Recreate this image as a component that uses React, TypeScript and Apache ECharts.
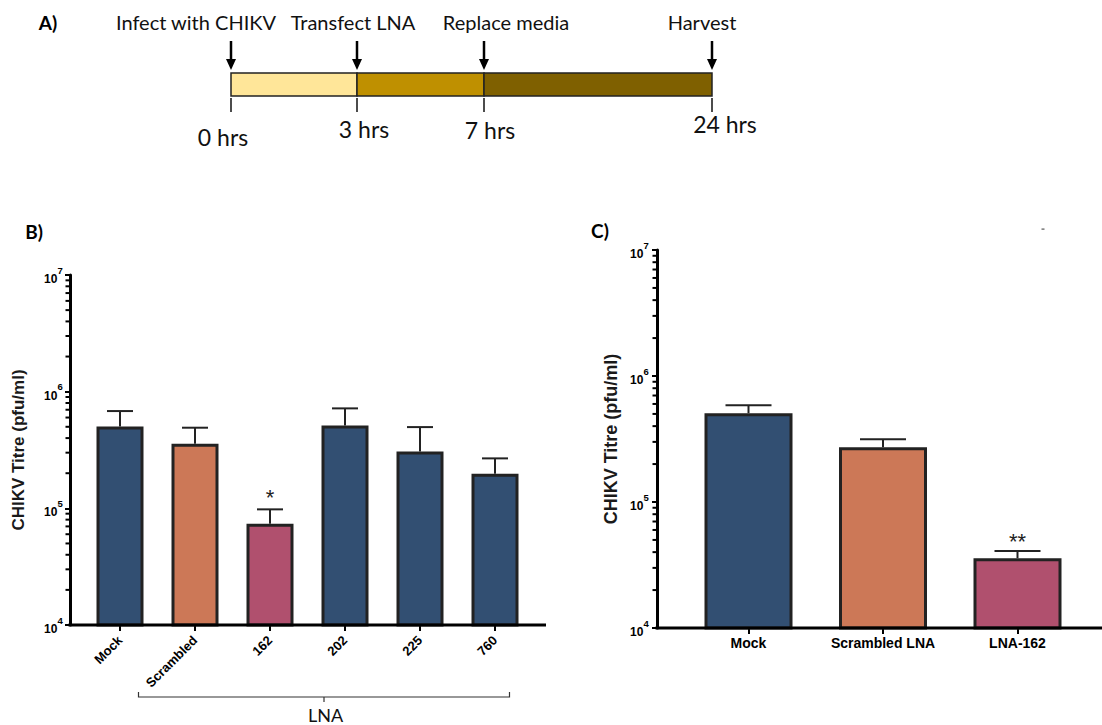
import React, { useEffect, useRef } from "react";
import * as echarts from "echarts";

// ---------- Data ----------
const timelineEvents = ["Infect with CHIKV", "Transfect LNA", "Replace media", "Harvest"];
const timelineTimes = ["0 hrs", "3 hrs", "7 hrs", "24 hrs"];

const panelBCategories = ["Mock", "Scrambled", "162", "202", "225", "760"];
const panelBMeans = [5.02e5, 3.57e5, 7.36e4, 5.12e5, 3.07e5, 1.98e5];
const panelBErrTops = [6.82e5, 4.91e5, 9.8e4, 7.19e5, 4.97e5, 2.68e5];
const panelBSig = ["", "", "*", "", "", ""];
const panelBGroupLabel = "LNA";

const panelCCategories = ["Mock", "Scrambled LNA", "LNA-162"];
const panelCMeans = [5.07e5, 2.72e5, 3.58e4];
const panelCErrTops = [5.85e5, 3.15e5, 4.08e4];
const panelCSig = ["", "", "**"];

const yAxisTitle = "CHIKV Titre (pfu/ml)";
const decades = [1e4, 1e5, 1e6];
const minorMultipliers = [2, 3, 4, 5, 6, 7, 8, 9];

// ---------- Styles ----------
const BLUE = "#324f72";
const ORANGE = "#cc7857";
const PINK = "#b0506e";
const panelBColors = [BLUE, ORANGE, PINK, BLUE, BLUE, BLUE];
const panelCColors = [BLUE, ORANGE, PINK];
const timelineColors = ["#ffe699", "#bf9000", "#7f6000"];
const SANS = "'Liberation Sans', Arial, Helvetica, sans-serif";
const CAL = "Lato, 'Open Sans', sans-serif";

// layout (pixels)
const markX = [231, 357, 484, 712];
const eventLabelX = [196, 353, 506, 702];
const timeLabelPos = [
  [223, 137],
  [364, 129],
  [490, 130],
  [725, 124],
];

const B = { left: 82.5, top: 275, width: 450, height: 350, axisX: 70, axisEnd: 546 };
const C = { left: 681.25, top: 250, width: 403.5, height: 378, axisX: 657, axisEnd: 1102 };

const minorTickValues: number[] = [];
decades.forEach((d) => minorMultipliers.forEach((m) => minorTickValues.push(d * m)));

function makeYAxis(gridIndex: number, offset: number, nameSize: number, nameGap: number, margin: number) {
  return {
    type: "log",
    logBase: 10,
    gridIndex,
    min: 1e4,
    max: 1e7,
    splitNumber: 3,
    offset,
    position: "left",
    name: yAxisTitle,
    nameLocation: "middle",
    nameRotate: 90,
    nameGap,
    nameTextStyle: { fontFamily: SANS, fontWeight: "bold", fontSize: nameSize, color: "#1a1a1a" },
    axisLine: { show: true, lineStyle: { color: "#000", width: 3 } },
    axisTick: { show: true, length: 5, lineStyle: { color: "#000", width: 2 } },
    splitLine: { show: false },
    axisLabel: {
      show: true,
      margin,
      showMinLabel: true,
      showMaxLabel: true,
      fontFamily: SANS,
      fontWeight: "bold",
      fontSize: 12,
      color: "#000",
      formatter: (v: number) => `{base|10}{sup|${Math.round(Math.log10(v))}}{sp| }`,
      rich: {
        base: { fontFamily: SANS, fontWeight: "bold", fontSize: 12, color: "#000", lineHeight: 13.4, verticalAlign: "bottom" },
        sup: { fontFamily: SANS, fontWeight: "bold", fontSize: 9.5, color: "#000", lineHeight: 16.4, verticalAlign: "top" },
        sp: { fontSize: 1, lineHeight: 20, verticalAlign: "middle" },
      },
    },
  };
}

function makeXAxis(gridIndex: number, data: string[], rotate: number, fontSize: number, margin: number) {
  return {
    type: "category",
    gridIndex,
    data,
    axisLine: { show: false },
    axisTick: { show: true, alignWithLabel: true, interval: 0, length: 6, lineStyle: { color: "#000", width: 2 } },
    axisLabel: {
      interval: 0,
      rotate,
      margin,
      fontFamily: SANS,
      fontWeight: "bold",
      fontSize,
      color: "#000",
    },
    splitLine: { show: false },
  };
}

function barSeries(idx: number, means: number[], colors: string[], barWidth: number) {
  return {
    type: "bar",
    xAxisIndex: idx,
    yAxisIndex: idx,
    barWidth,
    data: means.map((v, i) => ({ value: v, itemStyle: { color: colors[i] } })),
    itemStyle: { borderColor: "#222", borderWidth: 3 },
    z: 2,
  };
}

function errorSeries(idx: number, means: number[], errs: number[], sig: string[], cap: number, sigFont: number, sigGap: number) {
  return {
    type: "custom",
    xAxisIndex: idx,
    yAxisIndex: idx,
    silent: true,
    z: 3,
    data: means.map((m, i) => [i, errs[i], m]),
    renderItem: (params: any, api: any) => {
      const i = api.value(0);
      const top = api.coord([i, api.value(1)]);
      const base = api.coord([i, api.value(2)]);
      const children: any[] = [
        { type: "line", shape: { x1: top[0], y1: base[1], x2: top[0], y2: top[1] }, style: { stroke: "#222", lineWidth: 2 } },
        { type: "line", shape: { x1: top[0] - cap, y1: top[1], x2: top[0] + cap, y2: top[1] }, style: { stroke: "#222", lineWidth: 2 } },
      ];
      const s = sig[params.dataIndex];
      if (s) {
        children.push({
          type: "text",
          style: {
            text: s,
            x: top[0],
            y: top[1] - sigGap,
            align: "center",
            verticalAlign: "middle",
            textAlign: "center",
            textVerticalAlign: "middle",
            fontFamily: SANS,
            fontSize: sigFont,
            fill: "#222",
          },
        });
      }
      return { type: "group", children };
    },
  };
}

function minorTickSeries(idx: number, axisX: number) {
  return {
    type: "custom",
    xAxisIndex: idx,
    yAxisIndex: idx,
    silent: true,
    z: 5,
    data: minorTickValues.map((v) => [0, v]),
    renderItem: (_params: any, api: any) => {
      const p = api.coord([0, api.value(1)]);
      return {
        type: "line",
        shape: { x1: axisX - 4.5, y1: p[1], x2: axisX, y2: p[1] },
        style: { stroke: "#000", lineWidth: 2 },
      };
    },
  };
}

function txt(text: string, x: number, y: number, size: number, family: string, weight = "normal", color = "#000") {
  return {
    type: "text",
    z: 10,
    style: {
      text,
      x,
      y,
      fill: color,
      fontSize: size,
      fontFamily: family,
      fontWeight: weight,
      align: "center",
      verticalAlign: "middle",
      textAlign: "center",
      textVerticalAlign: "middle",
    },
  };
}

function buildGraphic() {
  const els: any[] = [];
  // Panel A
  els.push(txt("A)", 48, 22, 19, CAL, "bold"));
  timelineColors.forEach((c, i) => {
    els.push({
      type: "rect",
      z: 10,
      shape: { x: markX[i], y: 73, width: markX[i + 1] - markX[i], height: 23 },
      style: { fill: c, stroke: "#222", lineWidth: 1.5 },
    });
  });
  markX.forEach((x, i) => {
    els.push({ type: "line", z: 10, shape: { x1: x, y1: 41, x2: x, y2: 62 }, style: { stroke: "#000", lineWidth: 2.5 } });
    els.push({ type: "polygon", z: 10, shape: { points: [[x - 5, 59], [x + 5, 59], [x, 70]] }, style: { fill: "#000" } });
    els.push({ type: "line", z: 10, shape: { x1: x, y1: 98, x2: x, y2: 112 }, style: { stroke: "#111", lineWidth: 1.5 } });
    els.push(txt(timelineEvents[i], eventLabelX[i], 22, 20, CAL, "normal", "#111"));
    els.push(txt(timelineTimes[i], timeLabelPos[i][0], timeLabelPos[i][1], 23, CAL, "normal", "#111"));
  });
  // Panel labels
  els.push(txt("B)", 34, 231, 19, CAL, "bold"));
  els.push(txt("C)", 600, 230, 19, CAL, "bold"));
  els.push({ type: "rect", z: 10, shape: { x: 1041.5, y: 228.5, width: 3, height: 1.2 }, style: { fill: "#555" } });
  // x axis lines
  els.push({ type: "line", z: 20, shape: { x1: B.axisX - 1.5, y1: B.top + B.height, x2: B.axisEnd, y2: B.top + B.height }, style: { stroke: "#000", lineWidth: 3 } });
  els.push({ type: "line", z: 20, shape: { x1: C.axisX - 1.5, y1: C.top + C.height, x2: C.axisEnd, y2: C.top + C.height }, style: { stroke: "#000", lineWidth: 3 } });
  // Brace under LNA group
  els.push({
    type: "polyline",
    z: 10,
    shape: { points: [[138.5, 692], [138.5, 697], [509.5, 697], [509.5, 692]] },
    style: { stroke: "#333", lineWidth: 1.2, fill: null },
  });
  els.push({ type: "line", z: 10, shape: { x1: 324, y1: 697, x2: 324, y2: 702 }, style: { stroke: "#333", lineWidth: 1.2 } });
  els.push(txt(panelBGroupLabel, 325.5, 715, 18, CAL, "normal", "#111"));
  return els;
}

export default function App() {
  const ref = useRef<HTMLDivElement>(null);
  useEffect(() => {
    if (!ref.current) return;
    const chart = echarts.init(ref.current, undefined, { renderer: "svg" });
    const option: any = {
      animation: false,
      backgroundColor: "#ffffff",
      grid: [
        { left: B.left, top: B.top, width: B.width, height: B.height, containLabel: false, outerBoundsMode: "none" },
        { left: C.left, top: C.top, width: C.width, height: C.height, containLabel: false, outerBoundsMode: "none" },
      ],
      xAxis: [
        makeXAxis(0, panelBCategories, 45, 13, 13),
        makeXAxis(1, panelCCategories, 0, 14, 8),
      ],
      yAxis: [
        makeYAxis(0, B.left - B.axisX, 17, 43, 7),
        makeYAxis(1, C.left - C.axisX, 18, 37, 8),
      ],
      series: [
        barSeries(0, panelBMeans, panelBColors, 47),
        errorSeries(0, panelBMeans, panelBErrTops, panelBSig, 13, 22, 12),
        minorTickSeries(0, B.axisX),
        barSeries(1, panelCMeans, panelCColors, 88),
        errorSeries(1, panelCMeans, panelCErrTops, panelCSig, 23, 22, 10),
        minorTickSeries(1, C.axisX),
      ],
      graphic: buildGraphic(),
    };
    chart.setOption(option);
    return () => chart.dispose();
  }, []);
  return (
    <div
      ref={ref}
      style={{ position: "fixed", left: 0, top: 0, width: 1102, height: 725, background: "#fff" }}
    />
  );
}
